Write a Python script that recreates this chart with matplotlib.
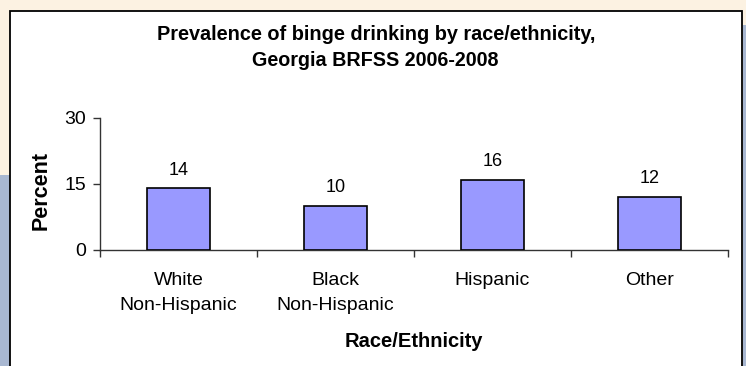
import matplotlib
matplotlib.use("Agg")
import matplotlib.pyplot as plt
from matplotlib.patches import Rectangle

# Data
categories = ["White\nNon-Hispanic", "Black\nNon-Hispanic", "Hispanic", "Other"]
prevalence = [14, 10, 16, 12]
y_ticks = [0, 15, 30]

plt.rcParams["font.family"] = ["Liberation Sans", "DejaVu Sans"]

W, H, DPI = 746, 366, 100
fig = plt.figure(figsize=(W / DPI, H / DPI), dpi=DPI)
fig.patch.set_facecolor("#FCF2E2")

def px_rect(x0, y0, x1, y1, **kw):
    """Rectangle in figure pixel coordinates (y measured from top)."""
    r = Rectangle((x0 / W, 1 - y1 / H), (x1 - x0) / W, (y1 - y0) / H,
                  transform=fig.transFigure, **kw)
    fig.patches.append(r)
    return r

# slide-style background strips and white chart panel
px_rect(0, 175, 9.5, 370, facecolor="#A8B7D1", edgecolor="none", zorder=0)
px_rect(742.5, 25, 750, 370, facecolor="#A8B7D1", edgecolor="none", zorder=0)
px_rect(9.5, 10.5, 741.5, 380, facecolor="white", edgecolor="black",
        linewidth=1.3, zorder=1)

# plotting area
ax_l, ax_r, ax_t, ax_b = 100, 728, 118, 250
ax = fig.add_axes([ax_l / W, 1 - ax_b / H, (ax_r - ax_l) / W, (ax_b - ax_t) / H])
ax.set_facecolor("none")
ax.set_zorder(2)

x = list(range(len(categories)))
bars = ax.bar(x, prevalence, width=0.4, color="#9999FF", edgecolor="black",
              linewidth=1.2, zorder=3)
for xi, v in zip(x, prevalence):
    ax.annotate(f"{v}", (xi, v), xytext=(0, 10), textcoords="offset points",
                ha="center", va="baseline", fontsize=13, color="black")

ax.set_xlim(-0.5, len(categories) - 0.5)
ax.set_ylim(0, 30)
ax.set_yticks(y_ticks)
ax.set_yticklabels([str(t) for t in y_ticks], fontsize=14)
ax.set_xticks(x)
ax.set_xticklabels(categories, fontsize=14, linespacing=1.6)
ax.set_xticks([i - 0.5 for i in range(len(categories) + 1)], minor=True)
ax.tick_params(axis="x", which="major", length=0, pad=16)
ax.tick_params(axis="x", which="minor", length=5, direction="out",
               color="#333333", width=1)
ax.tick_params(axis="y", length=5, direction="out", color="#333333",
               width=1, pad=5)

for s in ("top", "right"):
    ax.spines[s].set_visible(False)
for s in ("left", "bottom"):
    ax.spines[s].set_color("#333333")
    ax.spines[s].set_linewidth(1)

# titles and axis labels
fig.text(376 / W, 1 - 40.5 / H, "Prevalence of binge drinking by race/ethnicity,",
         ha="center", va="baseline", fontsize=14.3, fontweight="bold")
fig.text(375 / W, 1 - 65.5 / H, "Georgia BRFSS 2006-2008",
         ha="center", va="baseline", fontsize=14.2, fontweight="bold")
fig.text(414 / W, 1 - 347 / H, "Race/Ethnicity", ha="center", va="baseline",
         fontsize=14.5, fontweight="bold")
fig.text(41 / W, 1 - 190 / H, "Percent", ha="center", va="center",
         rotation=90, fontsize=15.5, fontweight="bold")

fig.savefig("out.png", dpi=DPI, facecolor=fig.get_facecolor())
